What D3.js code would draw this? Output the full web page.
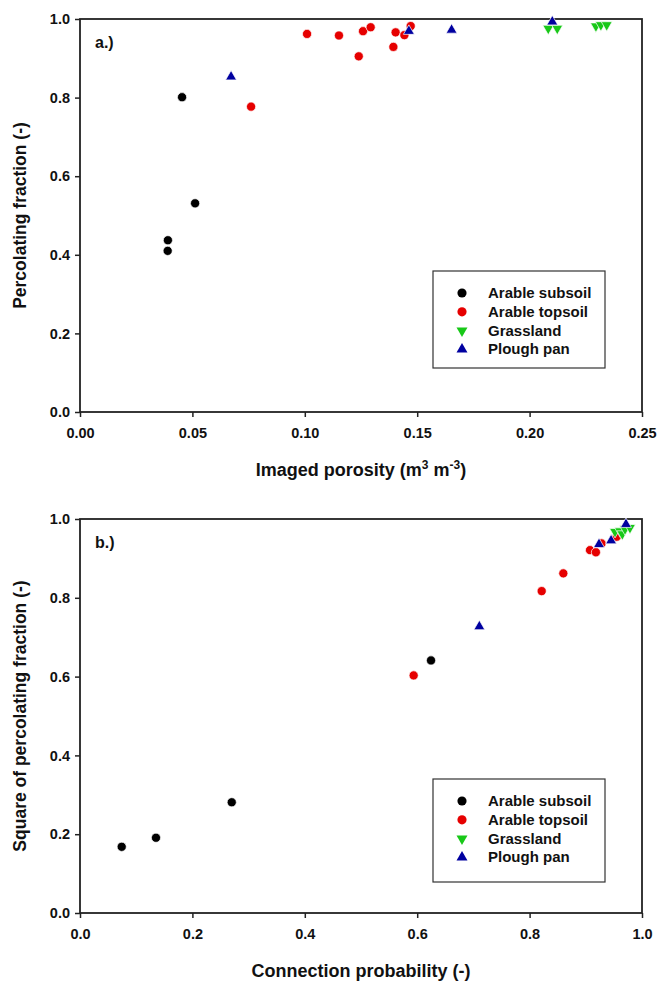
<!DOCTYPE html>
<html>
<head>
<meta charset="utf-8">
<script src="https://cdn.jsdelivr.net/npm/d3@7"></script>
<style>
  body { margin: 0; background: #fff; }
  text { font-family: "Liberation Sans", Arial, sans-serif; font-weight: bold; fill: #111; }
</style>
</head>
<body>
<div id="viz"></div>
<script>
// panel a: imaged porosity vs percolating fraction
var subsoilA_x = [0.0454, 0.0512, 0.0391, 0.0390];
var subsoilA_y = [0.801, 0.531, 0.437, 0.410];
var topsoilA_x = [0.0761, 0.101, 0.1152, 0.1240, 0.1259, 0.1293, 0.1394, 0.1404, 0.1443, 0.1471];
var topsoilA_y = [0.777, 0.962, 0.958, 0.905, 0.969, 0.979, 0.929, 0.966, 0.959, 0.982];
var grassA_x = [0.2083, 0.2123, 0.2295, 0.2317, 0.2343];
var grassA_y = [0.976, 0.976, 0.982, 0.985, 0.985];
var ploughA_x = [0.0672, 0.1463, 0.1653, 0.2101];
var ploughA_y = [0.853, 0.969, 0.972, 0.993];

// panel b: connection probability vs squared percolating fraction
var subsoilB_x = [0.0742, 0.1352, 0.270, 0.6246];
var subsoilB_y = [0.168, 0.191, 0.281, 0.641];
var topsoilB_x = [0.5937, 0.8215, 0.860, 0.9075, 0.918, 0.928, 0.955];
var topsoilB_y = [0.603, 0.817, 0.862, 0.921, 0.9155, 0.938, 0.955];
var grassB_x = [0.952, 0.961, 0.965, 0.9698, 0.9786];
var grassB_y = [0.968, 0.9695, 0.962, 0.9746, 0.978];
var ploughB_x = [0.7106, 0.9235, 0.945, 0.9715];
var ploughB_y = [0.727, 0.9357, 0.945, 0.9866];

var seriesNames = ["Arable subsoil", "Arable topsoil", "Grassland", "Plough pan"];
var xTicksA = [0, 0.05, 0.10, 0.15, 0.20, 0.25];
var xTicksB = [0, 0.2, 0.4, 0.6, 0.8, 1.0];
var yTicks = [0, 0.2, 0.4, 0.6, 0.8, 1.0];

var colors = ["#000000", "#e60000", "#18c818", "#0000a0"];
var shapes = ["circle", "circle", "down", "up"];

var width = 659, height = 981;
var svg = d3.select("#viz").append("svg").attr("width", width).attr("height", height);

function symbolPath(shape) {
    if (shape == "circle") return d3.symbol().type(d3.symbolCircle).size(66)();
    return d3.symbol().type(d3.symbolTriangle).size(52)();
}

function drawPanel(p) {
    var x = d3.scaleLinear().domain([0, p.xMax]).range([80, 642]);
    var y = d3.scaleLinear().domain([0, 1]).range([p.bottom, p.top]);
    var g = svg.append("g");

    var xAxis = d3.axisBottom(x).tickValues(p.xTicks).tickFormat(d3.format(p.xFmt)).tickSize(5).tickPadding(11);
    var yAxis = d3.axisLeft(y).tickValues(yTicks).tickFormat(d3.format(".1f")).tickSize(5).tickPadding(5);

    g.append("g").attr("transform", "translate(0," + p.bottom + ")").call(xAxis);
    g.append("g").attr("transform", "translate(80,0)").call(yAxis);
    g.selectAll(".domain").remove();
    g.selectAll(".tick line").attr("stroke", "#222").attr("stroke-width", 1.5);
    g.selectAll(".tick text").style("font-size", "14.5px").attr("fill", "#111");

    // frame
    g.append("rect")
        .attr("x", 80).attr("y", p.top)
        .attr("width", 562).attr("height", p.bottom - p.top)
        .attr("fill", "none").attr("stroke", "#222").attr("stroke-width", 1.8);

    // points
    p.series.forEach(function (s, i) {
        var pts = s.x.map(function (v, j) { return {x: v, y: s.y[j]}; });
        g.append("g").selectAll("path")
            .data(pts)
            .enter()
            .append("path")
            .attr("d", symbolPath(shapes[i]))
            .attr("transform", function (d) {
                var t = "translate(" + x(d.x) + "," + y(d.y) + ")";
                if (shapes[i] == "down") t += " rotate(180)";
                return t;
            })
            .style("fill", colors[i])
            .attr("stroke", "#fff")
            .attr("stroke-width", 0.7);
    });

    // panel label
    g.append("text").attr("x", 95).attr("y", p.top + 29).style("font-size", "16px").text(p.label);

    // legend
    var lg = g.append("g").attr("transform", "translate(433," + p.legTop + ")");
    lg.append("rect").attr("width", 172).attr("height", p.legH)
        .attr("fill", "#fff").attr("stroke", "#333").attr("stroke-width", 1.2);
    seriesNames.forEach(function (n, i) {
        var yy = 22 + i * p.legStep;
        lg.append("path").attr("d", symbolPath(shapes[i]))
            .attr("transform", "translate(29," + yy + ")" + (shapes[i] == "down" ? " rotate(180)" : ""))
            .style("fill", colors[i]);
        lg.append("text").attr("x", 55).attr("y", yy + 5).style("font-size", "15px").text(n);
    });

    // axis titles
    var xt = g.append("text").attr("x", 361).attr("y", p.bottom + 64)
        .attr("text-anchor", "middle").style("font-size", "18px");
    p.xTitle(xt);
    g.append("text")
        .attr("transform", "translate(26," + (p.top + p.bottom) / 2 + ") rotate(-90)")
        .attr("text-anchor", "middle").style("font-size", "17.5px").text(p.yTitle);
}

drawPanel({
    xMax: 0.25, xTicks: xTicksA, xFmt: ".2f", top: 19, bottom: 412, legTop: 271, legH: 97, legStep: 18.8, label: "a.)",
    series: [
        {x: subsoilA_x, y: subsoilA_y}, {x: topsoilA_x, y: topsoilA_y},
        {x: grassA_x, y: grassA_y}, {x: ploughA_x, y: ploughA_y}
    ],
    yTitle: "Percolating fraction (-)",
    xTitle: function (t) {
        t.append("tspan").text("Imaged porosity (m");
        t.append("tspan").attr("dy", -7).style("font-size", "12px").text("3");
        t.append("tspan").attr("dy", 7).text(" m");
        t.append("tspan").attr("dy", -7).style("font-size", "12px").text("-3");
        t.append("tspan").attr("dy", 7).text(")");
    }
});

drawPanel({
    xMax: 1.0, xTicks: xTicksB, xFmt: ".1f", top: 519, bottom: 913, legTop: 779, legH: 103, legStep: 18.8, label: "b.)",
    series: [
        {x: subsoilB_x, y: subsoilB_y}, {x: topsoilB_x, y: topsoilB_y},
        {x: grassB_x, y: grassB_y}, {x: ploughB_x, y: ploughB_y}
    ],
    yTitle: "Square of percolating fraction (-)",
    xTitle: function (t) { t.text("Connection probability (-)"); }
});
</script>
</body>
</html>
